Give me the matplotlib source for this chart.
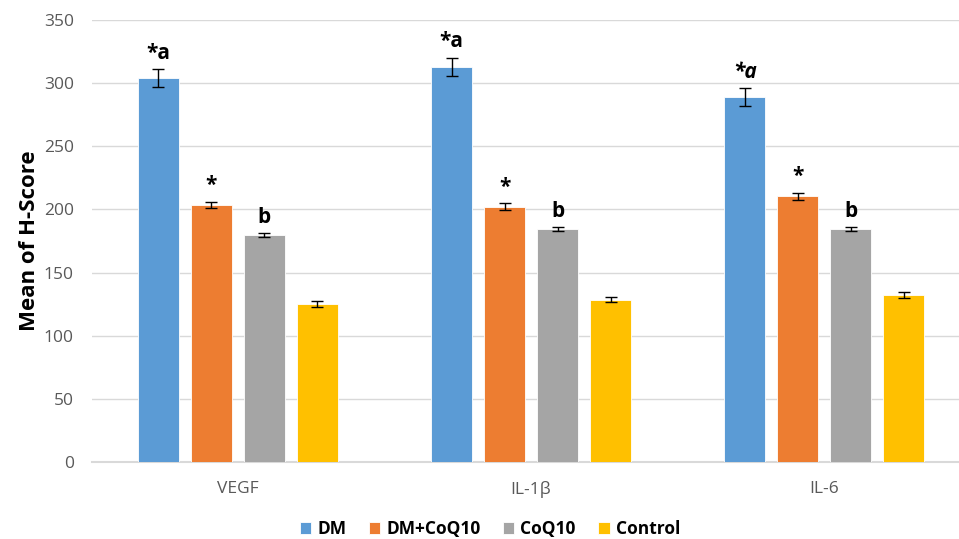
import matplotlib
matplotlib.use("Agg")
import matplotlib.pyplot as plt
import numpy as np

plt.rcParams['font.family'] = ['Open Sans', 'DejaVu Sans']

# dados
markers = ["VEGF", "IL-1β", "IL-6"]
groups = ["DM", "DM+CoQ10", "CoQ10", "Control"]
dm = [304, 313, 289]
dm_coq = [203.5, 202, 210.5]
coq = [179.5, 184.5, 184.5]
control = [125, 128.5, 132.5]
dm_err = [7, 7, 7]
dm_coq_err = [2.7, 2.8, 2.7]
coq_err = [1.5, 1.5, 1.5]
control_err = [2.2, 2.0, 2.3]
labels_dm = ["*a", "*a", "*a"]
labels_dm_coq = ["*", "*", "*"]
labels_coq = ["b", "b", "b"]
labels_control = ["", "", ""]
# no IL-6 o "a" aparece em itálico
styles_dm = ["normal", "normal", "italic"]

colors = ["#5B9BD5", "#ED7D31", "#A5A5A5", "#FFC000"]

series = [dm, dm_coq, coq, control]
errors = [dm_err, dm_coq_err, coq_err, control_err]
texts = [labels_dm, labels_dm_coq, labels_coq, labels_control]
styles = [styles_dm, ["normal"] * 3, ["normal"] * 3, ["normal"] * 3]

fig = plt.figure(figsize=(9.59, 5.39), dpi=100)
ax = fig.add_axes([0.0959, 0.1429, 0.9041, 0.8200])

x = np.arange(len(markers))
offsets = np.array([-0.2713, -0.0904, 0.0904, 0.2713])
width = 0.14

for i in range(4):
    pos = x + offsets[i]
    ax.bar(pos, series[i], width, color=colors[i], label=groups[i],
           edgecolor="white", linewidth=0.6, zorder=3,
           yerr=errors[i], error_kw=dict(ecolor="black", elinewidth=1, capsize=4, capthick=1))
    for p, v, e, t, st in zip(pos, series[i], errors[i], texts[i], styles[i]):
        if t:
            ax.annotate(t, (p, v + e), xytext=(0, 4), textcoords="offset points",
                        ha="center", va="bottom", fontsize=15, fontweight="bold",
                        fontstyle=st, color="black")

ax.set_ylim(0, 350)
ax.set_xlim(-0.498, 2.46)
ax.set_yticks(np.arange(0, 351, 50))
ax.set_xticks(x)
ax.set_xticklabels(markers)
ax.grid(axis="y", color="#D9D9D9", linewidth=1, zorder=0)
for s in ["top", "right", "left"]:
    ax.spines[s].set_visible(False)
ax.spines["bottom"].set_color("#D9D9D9")
ax.spines["bottom"].set_linewidth(1.5)
ax.tick_params(axis="both", length=0, labelsize=12.5, colors="#595959")
ax.tick_params(axis="y", pad=13)
ax.tick_params(axis="x", pad=14)
ax.set_ylabel("Mean of H-Score", fontsize=16, fontweight="bold", labelpad=3)

leg = ax.legend(loc="lower center", bbox_to_anchor=(0.459, -0.2), ncol=4, frameon=False,
                prop=dict(size=12.5, weight="bold"), handlelength=0.65, handleheight=0.65,
                handletextpad=0.35, columnspacing=1.3, borderpad=0.2)

fig.savefig("out.png", dpi=100)
